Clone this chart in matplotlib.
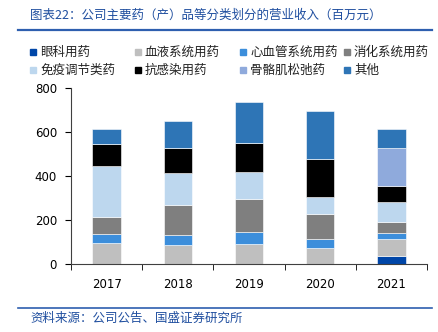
import numpy as np
import matplotlib
matplotlib.use('Agg')
from matplotlib import pyplot as plt
from matplotlib.lines import Line2D

plt.rcParams['font.family'] = ['Noto Sans CJK SC', 'DejaVu Sans']

years = ['2017', '2018', '2019', '2020', '2021']
series_names = ['眼科用药', '血液系统用药', '心血管系统用药', '消化系统用药',
                '免疫调节类药', '抗感染用药', '骨骼肌松弛药', '其他']
eye = [0, 0, 0, 0, 38]
blood = [94, 88, 92, 74, 74]
cardio = [40, 42, 51, 41, 27]
digest = [80, 137, 153, 110, 53]
immune = [230, 145, 119, 80, 90]
anti_inf = [102, 112, 133, 173, 71]
muscle = [0, 0, 0, 0, 172]
other = [65, 122, 187, 216, 86]
colors = ['#0046A8', '#BFBFBF', '#3C8EDB', '#7F7F7F',
          '#BDD7EE', '#000000', '#8FAADC', '#2E75B6']

series = [eye, blood, cardio, digest, immune, anti_inf, muscle, other]

W, H = 439, 332
fig = plt.figure(figsize=(W / 100, H / 100), dpi=100)
ax = fig.add_axes([71 / W, 68 / H, 356 / W, 176.5 / H])

x = np.arange(len(years))
bottom = np.zeros(len(years))
for name, vals, c in zip(series_names, series, colors):
    vals = np.array(vals, dtype=float)
    ax.bar(x, vals, width=0.4, bottom=bottom, color=c, edgecolor='white',
           linewidth=0.4)
    bottom += vals

ax.set_xlim(-0.5, len(years) - 0.5)
ax.set_ylim(0, 800)
ax.set_yticks([0, 200, 400, 600, 800])
ax.set_xticks(x)
ax.set_xticklabels(years)
ax.set_xticks(np.arange(len(years) + 1) - 0.5, minor=True)
ax.tick_params(axis='x', which='major', length=0, pad=10, labelsize=8.5)
ax.tick_params(axis='x', which='minor', length=4, direction='out')
ax.tick_params(axis='y', length=4, direction='out', pad=6, labelsize=8.5)
for lab in ax.get_xticklabels() + ax.get_yticklabels():
    lab.set_family('DejaVu Sans')
for s in ['top', 'right']:
    ax.spines[s].set_visible(False)
ax.spines['left'].set_color('#404040')
ax.spines['bottom'].set_color('#404040')

# legend laid out by hand: 4 columns, 2 rows
col_x = [33, 138, 243, 347]
row_y = [52, 70]
for i, (name, c) in enumerate(zip(series_names, colors)):
    px = col_x[i % 4]
    py = row_y[i // 4]
    fig.add_artist(Line2D([px / W], [1 - py / H], marker='s', markersize=4.5,
                          color=c, linestyle='none'))
    fig.text((px + 7) / W, 1 - py / H, name, fontsize=9, va='center',
             ha='left', color='#222222')

title_color = '#1F4E9F'
fig.text(30 / W, 1 - 15 / H, '图表22：公司主要药（产）品等分类划分的营业收入（百万元）',
         color=title_color, fontsize=9, va='center', ha='left')
fig.add_artist(Line2D([18 / W, 432 / W], [1 - 30 / H, 1 - 30 / H],
                      color='#2E5FAF', linewidth=1.6))
fig.add_artist(Line2D([18 / W, 432 / W], [1 - 307.5 / H, 1 - 307.5 / H],
                      color='#2E5FAF', linewidth=1.2))
fig.text(30 / W, 1 - 318 / H, '资料来源：公司公告、国盛证券研究所',
         color=title_color, fontsize=9, va='center', ha='left')

fig.savefig('out.png', dpi=100)
